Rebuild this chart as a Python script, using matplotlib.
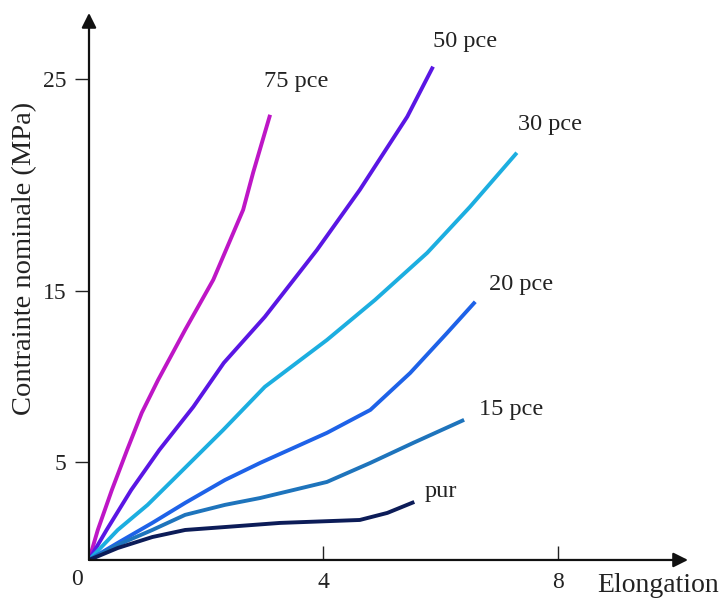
import numpy as np
import matplotlib
matplotlib.use("Agg")
import matplotlib.pyplot as plt

plt.rcParams['font.family'] = ['Liberation Serif', 'DejaVu Serif']

# elongation / nominal stress (MPa) for each filler content
x_75 = [0, 0.15, 0.39, 0.65, 0.90, 1.18, 1.64, 2.12, 2.63, 2.80, 3.09]
y_75 = [0, 1.53, 3.57, 5.70, 7.87, 9.80, 12.72, 15.52, 18.82, 20.57, 23.3]

x_50 = [0, 0.30, 0.72, 1.20, 1.78, 2.30, 3.00, 3.89, 4.62, 5.43, 5.87]
y_50 = [0, 1.53, 3.57, 5.70, 8.22, 10.79, 13.48, 16.93, 19.76, 23.21, 25.57]

x_30 = [0, 0.49, 1.00, 1.43, 2.29, 3.00, 4.06, 4.88, 5.77, 6.50, 7.30]
y_30 = [0, 1.53, 2.81, 4.08, 6.87, 9.39, 12.13, 14.47, 16.79, 18.96, 21.51]

x_20 = [0, 0.49, 1.08, 1.64, 2.32, 2.92, 4.06, 4.80, 5.48, 6.11, 6.59]
y_20 = [0, 0.87, 1.89, 2.91, 4.08, 4.95, 6.70, 8.04, 10.20, 12.54, 14.36]

x_15 = [0, 0.49, 1.08, 1.64, 2.32, 2.92, 4.06, 4.80, 5.53, 6.40]
y_15 = [0, 0.77, 1.53, 2.30, 2.81, 3.16, 3.98, 4.95, 6.11, 7.46]

x_pur = [0, 0.49, 1.08, 1.64, 2.32, 3.26, 4.62, 5.09, 5.55]
y_pur = [0, 0.61, 1.17, 1.53, 1.68, 1.89, 2.04, 2.40, 2.96]

labels = ["75 pce", "50 pce", "30 pce", "20 pce", "15 pce", "pur"]
colors = ['#BE16C6', '#5A16E4', '#1CAEE0', '#1E62E8', '#1E74BC', '#0C1C58']
# where each curve name is written (elongation, MPa)
label_x = [3.53, 6.42, 7.87, 7.37, 7.20, 6.0]
label_y = [24.86, 26.75, 22.83, 15.28, 8.04, 3.47]

yticks = [5, 15, 25]

# the stress axis of the original figure is not evenly spaced
knots_mpa = [0, 5, 15, 25, 30]
knots_h = [0, 98, 269, 481, 587]


def forward(v):
    return np.interp(v, knots_mpa, knots_h)


def inverse(h):
    return np.interp(h, knots_h, knots_mpa)


fig = plt.figure(figsize=(7.23, 6.0), dpi=100)
ax = fig.add_axes([0.1231, 0.0667, 0.8285, 0.9117])

curves = [(x_75, y_75), (x_50, y_50), (x_30, y_30),
          (x_20, y_20), (x_15, y_15), (x_pur, y_pur)]
for (xs, ys), c in zip(curves, colors):
    ax.plot(xs, ys, color=c, lw=2.8, solid_capstyle='butt',
            solid_joinstyle='round')

for t, lx, ly in zip(labels, label_x, label_y):
    ax.text(lx, ly, t, fontsize=17.5, color='#222222', ha='center', va='center')

ax.set_yscale('function', functions=(forward, inverse))
ax.set_xlim(0, 10.22)
ax.set_ylim(0, 28.1)

ax.set_xticks([4, 8])
ax.set_yticks(yticks)
ax.tick_params(axis='x', direction='in', length=10, width=1, pad=9,
               labelsize=17, colors='#222222')
ax.tick_params(axis='y', direction='out', length=10, width=1, pad=6,
               labelsize=17, colors='#222222')
ax.minorticks_off()

for s in ax.spines.values():
    s.set_visible(False)

# axes drawn as arrows
ax.annotate('', xy=(1, 0), xytext=(0, 0), xycoords='axes fraction',
            arrowprops=dict(arrowstyle='-|>', color='#111111', lw=1.6,
                            mutation_scale=22, shrinkA=0, shrinkB=0))
ax.annotate('', xy=(0, 1), xytext=(0, 0), xycoords='axes fraction',
            arrowprops=dict(arrowstyle='-|>', color='#111111', lw=1.6,
                            mutation_scale=22, shrinkA=0, shrinkB=0))

ax.text(-0.02, -0.035, "0", transform=ax.transAxes, fontsize=17,
        color='#222222', ha='center', va='center')
ax.text(0.95, -0.0475, "Elongation", transform=ax.transAxes, fontsize=20,
        color='#222222', ha='center', va='center', clip_on=False)
ax.text(-0.107, 0.552, "Contrainte nominale (MPa)", transform=ax.transAxes,
        fontsize=20.5, color='#222222', rotation=90, ha='center', va='center')

fig.savefig("out.png", dpi=100)
